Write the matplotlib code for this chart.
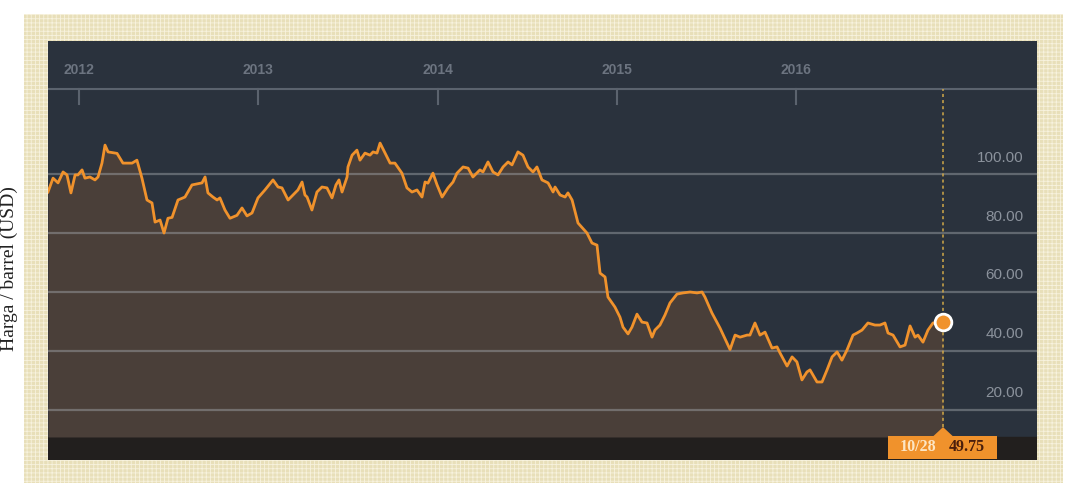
import matplotlib.pyplot as plt
from matplotlib.patches import Rectangle, Polygon

plt.rcParams['hatch.linewidth'] = 0.6

# price series (decimal year, USD per barrel)
years = [
    2011.827, 2011.855, 2011.883, 2011.911, 2011.933, 2011.955, 2011.978, 2011.994,
    2012.017, 2012.033, 2012.061, 2012.089, 2012.106, 2012.128, 2012.145, 2012.162,
    2012.212, 2012.245, 2012.296, 2012.323, 2012.351, 2012.379, 2012.407, 2012.424,
    2012.452, 2012.474, 2012.496, 2012.519, 2012.552, 2012.591, 2012.630, 2012.686,
    2012.703, 2012.719, 2012.747, 2012.770, 2012.786, 2012.814, 2012.842, 2012.881,
    2012.909, 2012.937, 2012.965, 2012.998, 2013.037, 2013.082, 2013.110, 2013.132,
    2013.166, 2013.205, 2013.221, 2013.244, 2013.260, 2013.272, 2013.299, 2013.327,
    2013.355, 2013.383, 2013.411, 2013.433, 2013.450, 2013.467, 2013.495, 2013.500,
    2013.523, 2013.550, 2013.567, 2013.595, 2013.623, 2013.640, 2013.662, 2013.679,
    2013.707, 2013.735, 2013.762, 2013.801, 2013.829, 2013.857, 2013.885, 2013.913,
    2013.930, 2013.946, 2013.974, 2013.997, 2014.025, 2014.058, 2014.086, 2014.108,
    2014.142, 2014.170, 2014.197, 2014.236, 2014.253, 2014.281, 2014.309, 2014.337,
    2014.365, 2014.393, 2014.415, 2014.448, 2014.476, 2014.504, 2014.532, 2014.554,
    2014.582, 2014.616, 2014.644, 2014.655, 2014.683, 2014.711, 2014.727, 2014.750,
    2014.783, 2014.833, 2014.861, 2014.889, 2014.906, 2014.934, 2014.950, 2014.989,
    2015.017, 2015.034, 2015.062, 2015.084, 2015.112, 2015.140, 2015.168, 2015.196,
    2015.212, 2015.240, 2015.268, 2015.296, 2015.335, 2015.369, 2015.408, 2015.447,
    2015.475, 2015.491, 2015.530, 2015.575, 2015.631, 2015.659, 2015.687, 2015.726,
    2015.742, 2015.770, 2015.798, 2015.826, 2015.865, 2015.893, 2015.910, 2015.949,
    2015.977, 2016.004, 2016.032, 2016.060, 2016.077, 2016.116, 2016.144, 2016.172,
    2016.200, 2016.228, 2016.255, 2016.283, 2016.317, 2016.339, 2016.367, 2016.400,
    2016.439, 2016.467, 2016.495, 2016.512, 2016.540, 2016.579, 2016.607, 2016.635,
    2016.663, 2016.679, 2016.707, 2016.735, 2016.763, 2016.819,
]
prices = [
    93.9, 98.6, 97.0, 100.7, 99.7, 93.6, 99.7, 99.7,
    101.4, 98.6, 99.0, 98.0, 99.0, 103.7, 109.8, 107.5,
    107.0, 103.7, 103.7, 104.7, 98.6, 91.2, 90.2, 83.7,
    84.4, 80.0, 85.0, 85.3, 91.2, 92.2, 96.3, 97.0,
    99.0, 93.6, 92.2, 91.2, 91.9, 87.8, 85.0, 86.0,
    88.5, 85.8, 86.8, 91.9, 94.6, 98.0, 95.6, 95.3,
    91.2, 93.6, 94.6, 97.3, 92.9, 92.2, 87.8, 93.9,
    95.6, 95.3, 91.9, 96.3, 98.0, 93.9, 99.0, 102.4,
    106.4, 108.1, 104.7, 107.1, 106.4, 107.5, 107.1, 110.5,
    107.1, 103.7, 103.7, 100.3, 95.3, 93.9, 94.6, 92.2,
    97.3, 96.9, 100.3, 96.3, 92.2, 95.3, 97.3, 100.3,
    102.4, 102.0, 99.0, 101.4, 100.7, 104.1, 100.7, 99.7,
    102.4, 104.1, 103.1, 107.5, 106.4, 102.4, 100.7, 102.4,
    98.0, 97.0, 93.9, 95.6, 92.9, 92.2, 93.6, 91.2,
    83.4, 80.0, 76.6, 75.9, 66.4, 65.1, 58.3, 54.9,
    51.5, 48.1, 45.8, 48.1, 52.5, 49.8, 49.5, 44.7,
    47.1, 48.8, 52.2, 56.3, 59.3, 59.7, 60.0, 59.7,
    60.0, 58.3, 52.9, 47.8, 40.5, 45.4, 44.7, 45.4,
    45.4, 49.5, 45.4, 46.4, 41.0, 41.4, 39.3, 34.9,
    38.0, 36.3, 30.2, 32.9, 33.6, 29.5, 29.5, 33.6,
    38.0, 39.7, 36.9, 40.3, 45.4, 46.1, 47.1, 49.5,
    48.8, 48.8, 49.5, 46.1, 45.4, 41.4, 42.0, 48.5,
    44.7, 45.4, 43.0, 47.1, 49.5, 49.75,
]
year_ticks = [2012, 2013, 2014, 2015, 2016]
grid_vals = [20, 40, 60, 80, 100]
last_date = '10/28'
last_price = '49.75'

panel = '#2a323d'
fill_col = '#4a3f39'
strip_col = '#221f1e'
orange = '#f0922c'

fig = plt.figure(figsize=(10.65, 4.83), dpi=100)
fig.patch.set_facecolor('white')

# textured beige frame
frame = Rectangle((24 / 1065, 0), 1039 / 1065, 469 / 483, transform=fig.transFigure,
                  facecolor='#e8dfb9', edgecolor='#f7f2de', hatch='++++', linewidth=0,
                  zorder=-5)
fig.patches.append(frame)

ax = fig.add_axes([48 / 1065, 23 / 483, 989 / 1065, 419 / 483])
ax.set_zorder(2)
ax.set_facecolor(panel)
x0, x1 = 2011.827, 2017.343
y0, y1 = 3.05, 145.1
floor = 10.85
ax.set_xlim(x0, x1)
ax.set_ylim(y0, y1)
for s in ax.spines.values():
    s.set_visible(False)
ax.set_xticks([])
ax.set_yticks([])

ax.axhspan(y0, floor, color=strip_col, zorder=1)
ax.fill_between(years, prices, floor, color=fill_col, zorder=2, linewidth=0)

for v in grid_vals:
    ax.axhline(v, color='#a3a8ae', alpha=0.45, lw=1.6, zorder=3)
    ax.text(x1 - 0.075, v + 5.6, f'{v:.2f}', ha='right', va='center',
            color='#8b929c', fontsize=11, family='Liberation Sans', zorder=5)

ax.plot(years, prices, color=orange, lw=2, zorder=4, solid_joinstyle='round')

# top date band
band = 128.8
ax.axhline(band, color='#5b636e', lw=1.5, zorder=3)
for yr in year_ticks:
    ax.plot([yr, yr], [band, band - 5.1], color='#5b636e', lw=1.5, zorder=3)
    ax.text(yr, band + 6.5, str(yr), ha='center', va='center', color='#6c7480',
            fontsize=10, fontweight='bold', family='Liberation Sans')

# cursor line, last point and value tag
lx, ly = years[-1], prices[-1]
ax.plot([lx, lx], [14.2, band], color='#d0a848', lw=1.1, ls=(0, (2, 2)), zorder=4)
ax.plot(lx, ly, 'o', ms=12, mfc=orange, mec='white', mew=2, zorder=6)

ax.add_patch(Rectangle((lx - 0.307, 3.4), 0.608, 7.8, facecolor=orange,
                       edgecolor='none', zorder=6, clip_on=False))
ax.add_patch(Polygon([[lx - 0.055, 11.1], [lx + 0.055, 11.1], [lx, 14.2]],
                     closed=True, facecolor=orange, edgecolor='none', zorder=6))
ax.text(lx - 0.14, 7.3, last_date, ha='center', va='center', color='#fde6c4',
        fontsize=11.5, fontweight='bold', family='Liberation Serif', zorder=7)
ax.text(lx + 0.13, 7.3, last_price, ha='center', va='center', color='#4a1e0c',
        fontsize=11.5, fontweight='bold', family='Liberation Serif', zorder=7)

fig.text(9.5 / 1065, 1 - 269 / 483, 'Harga / barrel (USD)', rotation=90,
         ha='center', va='center', fontsize=14, family='Liberation Serif', color='#222222')

fig.savefig('out.png', dpi=100, facecolor='white')
